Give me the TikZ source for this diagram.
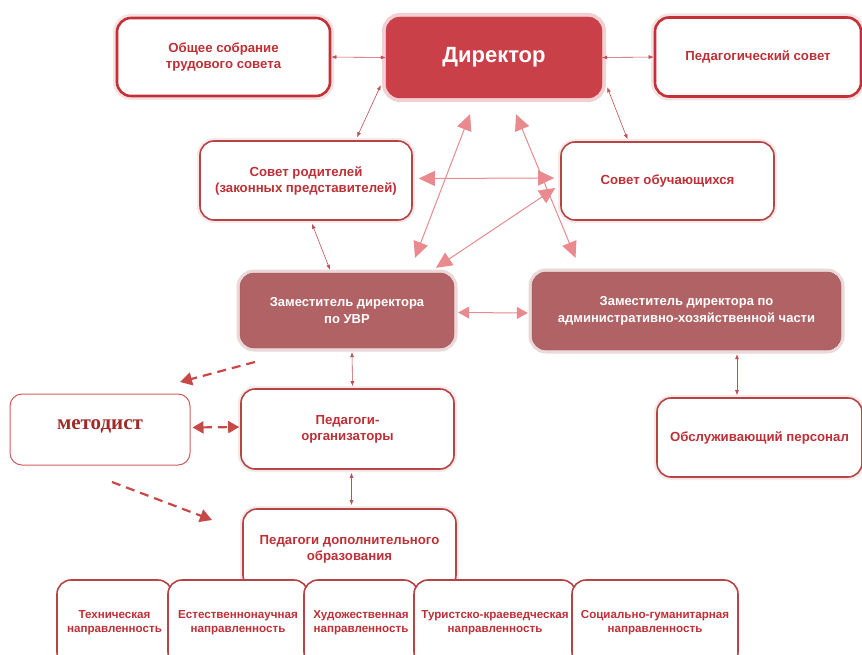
\documentclass[tikz,border=0pt]{standalone}
\usepackage{fontspec}
\setmainfont{Liberation Sans}
\newfontfamily\serifm{Liberation Serif}
\usetikzlibrary{arrows.meta}
\definecolor{rb}{RGB}{196,48,56}
\definecolor{rbt}{RGB}{182,68,70}
\definecolor{txt}{RGB}{190,48,54}
\definecolor{dirfill}{RGB}{201,64,72}
\definecolor{uvrfill}{RGB}{176,98,100}
\definecolor{pinkarr}{RGB}{232,138,142}
\definecolor{thinarr}{RGB}{190,80,82}
\definecolor{dsh}{RGB}{200,72,72}
\definecolor{mettxt}{RGB}{160,42,42}
\definecolor{metb}{RGB}{205,95,95}
\begin{document}
\begin{tikzpicture}[x=1pt,y=-1pt,
  sz/.style 2 args={minimum width=#1pt,minimum height=#2pt},
  box/.style={rectangle,rounded corners=14pt,fill=white,align=center,
    font=\bfseries\fontsize{13.2}{16}\selectfont,text=txt,inner sep=1pt},
  thickbox/.style={box,draw=rb,line width=2.6pt,preaction={draw=rb!14,line width=8pt}},
  thinbox/.style={box,draw=rbt,line width=1.6pt,preaction={draw=rbt!12,line width=6pt}},
  botbox/.style={box,draw=rbt,line width=1.6pt,font=\bfseries\fontsize{11.6}{14}\selectfont,inner sep=0pt},
  darkbox/.style={box,fill=uvrfill,draw=uvrfill!90!black,line width=0.4pt,text=white,
    preaction={draw=uvrfill!25,line width=7pt},font=\bfseries\fontsize{13}{17}\selectfont},
  thinconn/.style={draw=thinarr,line width=0.6pt,{Latex[length=5pt,width=4pt]}-{Latex[length=5pt,width=4pt]}},
  pinkconn/.style={draw=pinkarr,line width=1pt,{Triangle[length=16pt,width=15pt]}-{Triangle[length=16pt,width=15pt]}},
  midconn/.style={draw=pinkarr,line width=1pt,{Triangle[length=11pt,width=12pt]}-{Triangle[length=11pt,width=12pt]}},
  dashconn/.style={draw=dsh,line width=2.2pt,dash pattern=on 9pt off 6pt,-{Triangle[length=12pt,width=13pt]}},
  dashconn2/.style={draw=dsh,line width=2.2pt,dash pattern=on 9pt off 6pt,{Triangle[length=11pt,width=12pt]}-{Triangle[length=11pt,width=12pt]}}
]
\clip (0,0) rectangle (862,655);
\fill[white] (0,0) rectangle (862,655);

% top row
\node[thickbox,sz={213}{78}] (gen) at (223.5,57) {Общее собрание\\трудового совета};
\node[box,sz={216}{81},fill=dirfill,draw=dirfill,line width=0.4pt,text=white,
  preaction={draw=dirfill!25,line width=8pt},
  font=\bfseries\fontsize{22}{26}\selectfont] (dir) at (494,57.5) {Директор};
\node[thickbox,sz={206}{79}] (ped) at (758,57) {Педагогический совет};

% second row
\node[thinbox,sz={212}{79}] (par) at (306,180.5) {Совет родителей\\(законных представителей)};
\node[thinbox,sz={213}{78}] (stu) at (667.5,181) {Совет обучающихся};

% deputies
\node[darkbox,sz={214}{75}] (uvr) at (347,310.5) {Заместитель директора\\по УВР};
\node[darkbox,sz={309}{78}] (ahc) at (686.5,311) {Заместитель директора по\\административно-хозяйственной части};

% lower
\node[box,draw=metb,line width=1pt,sz={180}{71},rounded corners=12pt,
  font=\serifm\bfseries\fontsize{21}{24}\selectfont,text=mettxt] (met) at (100,429.5) {\raisebox{9pt}{методист}};
\node[thinbox,sz={213}{80}] (org) at (347.5,429) {Педагоги-\\организаторы};
\node[thinbox,sz={205}{79}] (srv) at (759.5,437.5) {Обслуживающий персонал};
\node[thinbox,sz={213}{80}] (dop) at (349.5,549) {Педагоги дополнительного\\образования};

% bottom row
\node[botbox,sz={115}{86}] (tech) at (114.5,623) {Техническая\\направленность};
\node[botbox,sz={140}{86}] (nat) at (238,623) {Естественнонаучная\\направленность};
\node[botbox,sz={114}{86}] (art) at (361,623) {Художественная\\направленность};
\node[botbox,sz={162}{86}] (tour) at (495,623) {Туристско-краеведческая\\направленность};
\node[botbox,sz={166}{86}] (soc) at (655,623) {Социально-гуманитарная\\направленность};

% thin connectors
\draw[thinconn] (gen.east) -- (dir.west);
\draw[thinconn] (dir.east) -- (ped.west);
\draw[thinconn] ([xshift=-5pt,yshift=13pt]dir.south west) -- ([xshift=51pt,yshift=3pt]par.north);
\draw[thinconn] ([xshift=5pt,yshift=11pt]dir.south east) -- ([xshift=-40pt,yshift=2pt]stu.north);
\draw[thinconn] ([xshift=6pt,yshift=-3pt]par.south) -- ([xshift=-17pt,yshift=3pt]uvr.north);
\draw[thinconn] ([xshift=5pt,yshift=-4pt]uvr.south) -- ([xshift=5pt,yshift=2pt]org.north);
\draw[thinconn] ([xshift=4pt,yshift=-3pt]org.south) -- ([xshift=2pt,yshift=3pt]dop.north);
\draw[thinconn] ([xshift=50.5pt,yshift=-4pt]ahc.south) -- ([xshift=-22.5pt,yshift=2pt]srv.north);

% pink connectors
\draw[pinkconn] ([xshift=68pt,yshift=15pt]uvr.north) -- ([xshift=-24pt,yshift=-16pt]dir.south);
\draw[pinkconn] ([xshift=22pt,yshift=-16pt]dir.south) -- ([xshift=-111pt,yshift=14pt]ahc.north);
\draw[pinkconn] ([xshift=6pt,yshift=2pt]par.east) -- ([xshift=-6pt,yshift=3pt]stu.west);
\draw[pinkconn] ([xshift=-5pt,yshift=-7pt]stu.west) -- ([xshift=89pt,yshift=5pt]uvr.north);
\draw[midconn] ([xshift=4pt,yshift=-2pt]uvr.east) -- ([xshift=-4pt,yshift=-2pt]ahc.west);

% dashed connectors
\coordinate (d1s) at (255,362);
\coordinate (d1e) at (180,382);
\coordinate (d3s) at (112,482);
\coordinate (d3e) at (212,520);
\draw[dashconn] (d1s) -- (d1e);
\draw[dashconn2] ([xshift=2pt,yshift=2pt]met.east) -- ([xshift=-1pt,yshift=2pt]org.west);
\draw[dashconn] (d3s) -- (d3e);
\end{tikzpicture}
\end{document}
